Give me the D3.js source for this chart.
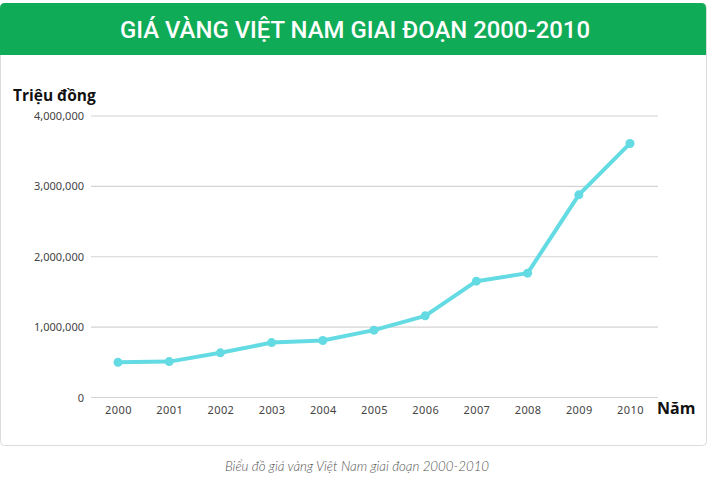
<!DOCTYPE html>
<html>
<head>
<meta charset="utf-8">
<script src="https://cdn.jsdelivr.net/npm/d3@7"></script>
<style>
  body { margin: 0; background: #fff; }
</style>
</head>
<body>
<div id="chart"></div>
<script>
const Width = 709;
const Height = 480;

// dữ liệu
const years = ["2000", "2001", "2002", "2003", "2004", "2005", "2006", "2007", "2008", "2009", "2010"];
const prices = [500000, 510000, 635000, 780000, 810000, 957000, 1160000, 1653000, 1767000, 2880000, 3610000];
const yTicks = [0, 1000000, 2000000, 3000000, 4000000];

const titleText = "GIÁ VÀNG VIỆT NAM GIAI ĐOẠN 2000-2010";
const yLabel = "Triệu đồng";
const xLabel = "Năm";
const captionText = "Biểu đồ giá vàng Việt Nam giai đoạn 2000-2010";

const svg = d3.select("#chart").append("svg")
    .attr("width", Width)
    .attr("height", Height);

// khung thẻ
svg.append("rect")
    .attr("x", 0.5).attr("y", 3.5)
    .attr("width", 706).attr("height", 442)
    .attr("rx", 4)
    .attr("fill", "#fff")
    .attr("stroke", "#dcdcdc");

// dải tiêu đề
svg.append("path")
    .attr("d", "M0,55 V8 Q0,3 5,3 H701 Q706,3 706,8 V55 Z")
    .attr("fill", "#10ab57");

svg.append("text")
    .attr("x", 355).attr("y", 38)
    .attr("text-anchor", "middle")
    .attr("font-family", "Roboto")
    .attr("font-weight", 500)
    .attr("font-size", 23)
    .attr("fill", "#fff")
    .attr("textLength", 470)
    .attr("lengthAdjust", "spacingAndGlyphs")
    .text(titleText);

const x = d3.scalePoint().domain(years).range([118, 630]);
const y = d3.scaleLinear().domain([0, 4000000]).range([397.5, 116]);

// lưới
svg.append("g")
    .selectAll("line")
    .data(yTicks)
    .join("line")
    .attr("x1", 91).attr("x2", 658)
    .attr("y1", d => y(d)).attr("y2", d => y(d))
    .attr("stroke", "#d4d4d4")
    .attr("stroke-width", 1.2);

const yAxis = svg.append("g")
    .attr("transform", "translate(84,0)")
    .call(d3.axisLeft(y).tickValues(yTicks).tickSize(0).tickPadding(0).tickFormat(d3.format(",")));
yAxis.select(".domain").remove();
yAxis.selectAll("text")
    .attr("font-family", "Noto Sans")
    .attr("font-size", 11)
    .attr("fill", "#444");

const xAxis = svg.append("g")
    .attr("transform", "translate(0,397.5)")
    .call(d3.axisBottom(x).tickSize(0).tickPadding(9));
xAxis.select(".domain").remove();
xAxis.selectAll("text")
    .attr("font-family", "Noto Sans")
    .attr("font-size", 11)
    .attr("letter-spacing", 0.4)
    .attr("fill", "#444");

svg.append("text")
    .attr("x", 13).attr("y", 101)
    .attr("font-family", "Open Sans")
    .attr("font-weight", 700)
    .attr("font-size", 15.5)
    .attr("fill", "#111")
    .text(yLabel);

svg.append("text")
    .attr("x", 657).attr("y", 414)
    .attr("font-family", "Open Sans")
    .attr("font-weight", 700)
    .attr("font-size", 16)
    .attr("fill", "#111")
    .text(xLabel);

// đường giá
const line = d3.line()
    .x((d, i) => x(years[i]))
    .y(d => y(d));

svg.append("path")
    .attr("d", line(prices))
    .attr("fill", "none")
    .attr("stroke", "#64dbe3")
    .attr("stroke-width", 4)
    .attr("stroke-linejoin", "round");

svg.append("g")
    .selectAll("circle")
    .data(prices)
    .join("circle")
    .attr("cx", (d, i) => x(years[i]))
    .attr("cy", d => y(d))
    .attr("r", 4.5)
    .attr("fill", "#64dbe3");

// chú thích
svg.append("text")
    .attr("x", 357).attr("y", 471)
    .attr("text-anchor", "middle")
    .attr("font-family", "Lato")
    .attr("font-style", "italic")
    .attr("font-weight", 300)
    .attr("font-size", 13.3)
    .attr("fill", "#555")
    .text(captionText);
</script>
</body>
</html>
